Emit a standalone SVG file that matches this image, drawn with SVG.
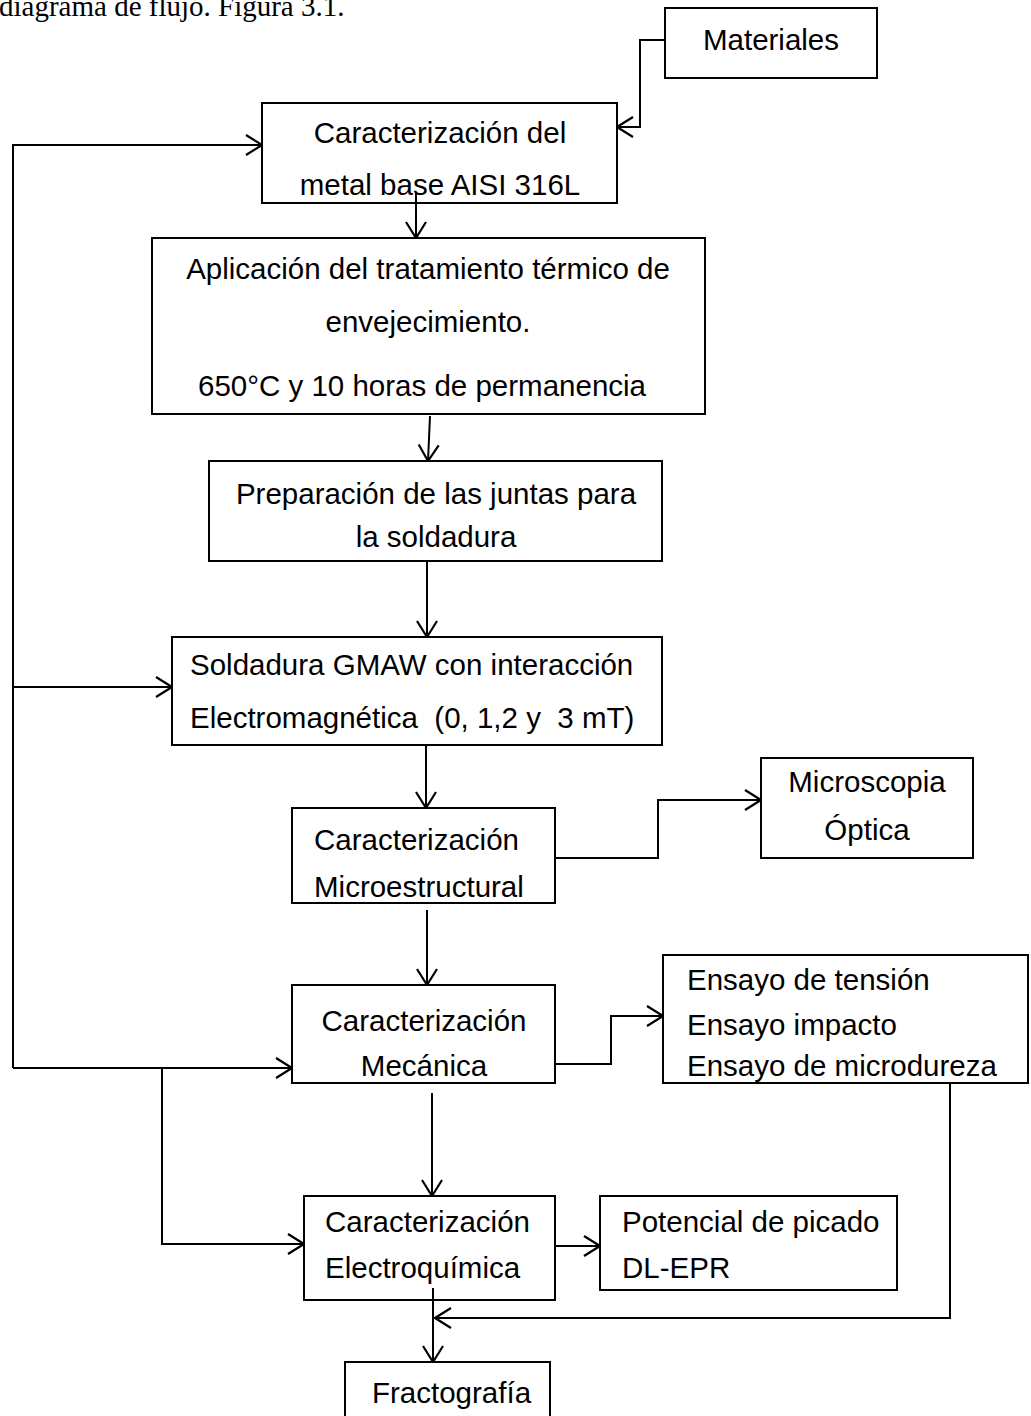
<svg xmlns="http://www.w3.org/2000/svg" width="1031" height="1416" viewBox="0 0 1031 1416">
<style>
.box{fill:none;stroke:#000;stroke-width:2}
.t{font-family:"Liberation Sans",Arial,sans-serif;font-size:29.5px;fill:#000}
.c{text-anchor:middle}
.hd{font-family:"Liberation Serif","Times New Roman",serif;font-size:29px;fill:#000}
.ln{fill:none;stroke:#000;stroke-width:2}
</style>
<defs>
<marker id="ar" markerUnits="userSpaceOnUse" viewBox="0 0 18 22" refX="17" refY="11" markerWidth="18" markerHeight="22" orient="auto">
<path d="M1,1 L17,11 L1,21" fill="none" stroke="#000" stroke-width="2.2"/>
</marker>
</defs>
<rect width="1031" height="1416" fill="#fff"/>
<text class="hd" x="-1" y="16">diagrama de flujo. Figura 3.1.</text>

<g id="connectors">
<path class="ln" d="M665,40 H640 V127 H617" marker-end="url(#ar)"/>
<path class="ln" d="M13,1068 V145 H262" marker-end="url(#ar)"/>
<path class="ln" d="M13,687 H172" marker-end="url(#ar)"/>
<path class="ln" d="M13,1068 H292" marker-end="url(#ar)"/>
<path class="ln" d="M162,1068 V1244 H304" marker-end="url(#ar)"/>
<path class="ln" d="M416,192 V238" marker-end="url(#ar)"/>
<path class="ln" d="M430,416 L428,461" marker-end="url(#ar)"/>
<path class="ln" d="M427,561 V637" marker-end="url(#ar)"/>
<path class="ln" d="M426,745 V808" marker-end="url(#ar)"/>
<path class="ln" d="M555,858 H658 V800 H761" marker-end="url(#ar)"/>
<path class="ln" d="M427,910 V985" marker-end="url(#ar)"/>
<path class="ln" d="M555,1064 H611 V1016 H663" marker-end="url(#ar)"/>
<path class="ln" d="M432,1093 V1196" marker-end="url(#ar)"/>
<path class="ln" d="M555,1246 H600" marker-end="url(#ar)"/>
<path class="ln" d="M433,1288 V1362" marker-end="url(#ar)"/>
<path class="ln" d="M950,1083 V1318 H435" marker-end="url(#ar)"/>
</g>

<g id="materiales">
<rect class="box" x="665" y="8" width="212" height="70"/>
<text class="t c" x="771" y="50">Materiales</text>
</g>
<g id="caracterizacion-metal">
<rect class="box" x="262" y="103" width="355" height="100"/>
<text class="t c" x="440" y="143">Caracterización del</text>
<text class="t c" x="440" y="195">metal base AISI 316L</text>
</g>
<g id="tratamiento">
<rect class="box" x="152" y="238" width="553" height="176"/>
<text class="t c" x="428" y="279">Aplicación del tratamiento térmico de</text>
<text class="t c" x="428" y="332">envejecimiento.</text>
<text class="t c" x="422" y="396">650°C y 10 horas de permanencia</text>
</g>
<g id="preparacion">
<rect class="box" x="209" y="461" width="453" height="100"/>
<text class="t c" x="436" y="504">Preparación de las juntas para</text>
<text class="t c" x="436" y="547">la soldadura</text>
</g>
<g id="soldadura">
<rect class="box" x="172" y="637" width="490" height="108"/>
<text class="t" x="190" y="675">Soldadura GMAW con interacción</text>
<text class="t" x="190" y="728" xml:space="preserve">Electromagnética  (0, 1,2 y  3 mT)</text>
</g>
<g id="microestructural">
<rect class="box" x="292" y="808" width="263" height="95"/>
<text class="t" x="314" y="850">Caracterización</text>
<text class="t" x="314" y="897">Microestructural</text>
</g>
<g id="microscopia">
<rect class="box" x="761" y="758" width="212" height="100"/>
<text class="t c" x="867" y="792">Microscopia</text>
<text class="t c" x="867" y="840">Óptica</text>
</g>
<g id="mecanica">
<rect class="box" x="292" y="985" width="263" height="98"/>
<text class="t c" x="424" y="1031">Caracterización</text>
<text class="t c" x="424" y="1076">Mecánica</text>
</g>
<g id="ensayos">
<rect class="box" x="663" y="955" width="365" height="128"/>
<text class="t" x="687" y="990">Ensayo de tensión</text>
<text class="t" x="687" y="1035">Ensayo impacto</text>
<text class="t" x="687" y="1076">Ensayo de microdureza</text>
</g>
<g id="electroquimica">
<rect class="box" x="304" y="1196" width="251" height="104"/>
<text class="t" x="325" y="1232">Caracterización</text>
<text class="t" x="325" y="1278">Electroquímica</text>
</g>
<g id="potencial">
<rect class="box" x="600" y="1196" width="297" height="94"/>
<text class="t" x="622" y="1232">Potencial de picado</text>
<text class="t" x="622" y="1278">DL-EPR</text>
</g>
<g id="fractografia">
<rect class="box" x="345" y="1362" width="205" height="80"/>
<text class="t" x="372" y="1403">Fractografía</text>
</g>
</svg>
